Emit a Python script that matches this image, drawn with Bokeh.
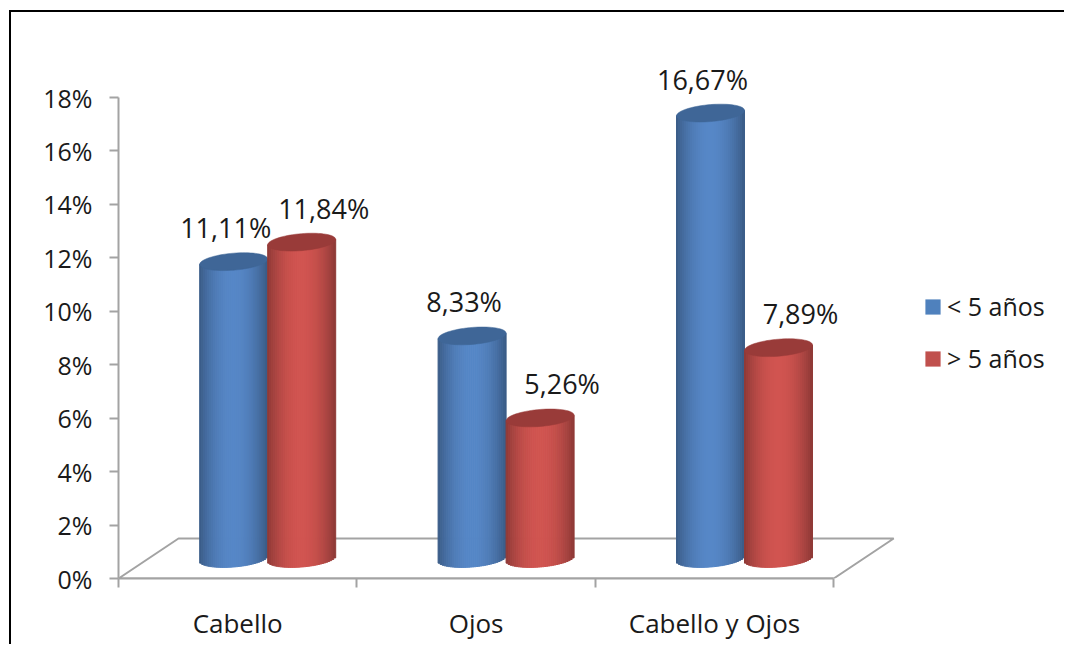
import math
from bokeh.plotting import figure
from bokeh.models import (Range1d, LinearAxis, FixedTicker, PrintfTickFormatter,
                          Legend, LegendItem, ColumnDataSource)
from bokeh.core.properties import value
from bokeh.embed import file_html
from bokeh.resources import INLINE

# ---------------- data ----------------
categories = ["Cabello", "Ojos", "Cabello y Ojos"]
menor_5 = [11.11, 8.33, 16.67]
mayor_5 = [11.84, 5.26, 7.89]
series_names = ["< 5 años", "> 5 años"]
y_ticks = [0, 2, 4, 6, 8, 10, 12, 14, 16, 18]

# ---------------- geometry / style ----------------
W, H = 1055, 634
LEFT, BOTTOM = 107, 68
PX_X = 238.4           # pixels per category
PX_Y = 26.72           # pixels per percent
FRAME_W = W - LEFT
FRAME_H = H - BOTTOM
DEPTH_X, DEPTH_Y = 60 / PX_X, 40 / PX_Y          # floor depth in data units
BAR_W_PX = 68
BAR_W = BAR_W_PX / PX_X
A_PX, B_PX = BAR_W_PX / 2, 8.5                   # ellipse semi-axes (px)
TILT = 0.08
N_STRIPES = 34
FONT = "Open Sans"
GRAY = "#A3A3A3"
TXT = "#1a1a1a"

p = figure(width=W, height=H, output_backend="svg", toolbar_location=None,
           x_range=Range1d(0, FRAME_W / PX_X), y_range=Range1d(0, FRAME_H / PX_Y),
           x_axis_type=None, y_axis_type=None,
           min_border_left=LEFT, min_border_bottom=BOTTOM,
           min_border_top=0, min_border_right=0,
           margin=(10, 0, 0, 9),
           styles={"border-top": "2px solid #000", "border-left": "2px solid #000"})
p.outline_line_color = None
p.grid.visible = False
p.background_fill_color = "white"
p.border_fill_color = "white"

# floor parallelogram
n = len(categories)
p.patch(x=[0, n, n + DEPTH_X, DEPTH_X], y=[0, 0, DEPTH_Y, DEPTH_Y],
        fill_color=None, line_color=GRAY, line_width=2)


def shade(rgb, f):
    return "#%02x%02x%02x" % tuple(max(0, min(255, int(round(c * f)))) for c in rgb)


def cylinders(values, offset, bright, top_color):
    xs, tops, bots, cols = [], [], [], []
    face_x, face_y = [], []
    centers = []
    base = DEPTH_Y / 2
    for i, v in enumerate(values):
        cx = i + 0.5 + DEPTH_X / 2 + offset
        centers.append(cx)
        top = base + v
        for j in range(N_STRIPES):
            t = (j + 0.5) / N_STRIPES
            u = (2 * t - 1) * A_PX
            f = 0.66 + 0.34 * math.sin(math.pi * t) ** 0.8
            xs.append(cx - BAR_W / 2 + t * BAR_W)
            tops.append(top + u * TILT / PX_Y)
            bots.append(base + (u * TILT - B_PX * math.sqrt(max(0.0, 1 - (u / A_PX) ** 2))) / PX_Y)
            cols.append(shade(bright, f))
        fx, fy = [], []
        for k in range(72):
            ph = 2 * math.pi * k / 72
            u = A_PX * math.cos(ph)
            vv = B_PX * math.sin(ph) + u * TILT
            fx.append(cx + u / PX_X)
            fy.append(top + vv / PX_Y)
        face_x.append(fx)
        face_y.append(fy)
    src = ColumnDataSource(dict(x=xs, top=tops, bottom=bots, color=cols))
    p.vbar(x="x", top="top", bottom="bottom", width=BAR_W / N_STRIPES,
           fill_color="color", line_color="color", line_width=1, source=src)
    p.patches(xs=face_x, ys=face_y, fill_color=top_color, line_color=top_color,
              line_width=0.5)
    return centers


blue_bright = (86, 135, 199)
red_bright = (209, 84, 80)
c_blue = cylinders(menor_5, -BAR_W / 2, blue_bright, "#3F6697")
c_red = cylinders(mayor_5, BAR_W / 2, red_bright, "#993B39")

base = DEPTH_Y / 2
fmt = lambda v: ("%.2f" % v).replace(".", ",") + "%"
p.text(x=c_blue, y=[base + v for v in menor_5], text=[fmt(v) for v in menor_5],
       text_font=value(FONT), text_font_size="27px", text_color=TXT,
       text_align="center", text_baseline="middle", x_offset=-8, y_offset=-34)
p.text(x=c_red, y=[base + v for v in mayor_5], text=[fmt(v) for v in mayor_5],
       text_font=value(FONT), text_font_size="27px", text_color=TXT,
       text_align="center", text_baseline="middle", x_offset=22, y_offset=-34)

# axes
yax = LinearAxis(ticker=FixedTicker(ticks=y_ticks, minor_ticks=[]),
                 formatter=PrintfTickFormatter(format="%d%%"),
                 bounds=(y_ticks[0], y_ticks[-1]))
yax.axis_line_color = GRAY
yax.axis_line_width = 2
yax.major_tick_line_color = GRAY
yax.major_tick_line_width = 2
yax.major_tick_out = 9
yax.major_tick_in = 0
yax.major_label_standoff = 17
yax.major_label_text_font = FONT
yax.major_label_text_font_size = "25px"
yax.major_label_text_color = TXT
p.add_layout(yax, "left")

centers_front = [i + 0.5 for i in range(n)]
xax = LinearAxis(ticker=FixedTicker(ticks=centers_front, minor_ticks=list(range(n + 1))),
                 bounds=(0, n),
                 major_label_overrides={c: lab for c, lab in zip(centers_front, categories)})
xax.axis_line_color = GRAY
xax.axis_line_width = 2
xax.major_tick_out = 0
xax.major_tick_in = 0
xax.minor_tick_line_color = GRAY
xax.minor_tick_line_width = 2
xax.minor_tick_out = 9
xax.minor_tick_in = 0
xax.major_label_standoff = 17
xax.major_label_text_font = FONT
xax.major_label_text_font_size = "26px"
xax.major_label_text_color = TXT
p.add_layout(xax, "below")

# legend (swatches come from off-screen one-point renderers)
r1 = p.quad(left=[-10], right=[-9], top=[-10], bottom=[-11], fill_color="#4F81BD", line_color=None)
r2 = p.quad(left=[-10], right=[-9], top=[-10], bottom=[-11], fill_color="#C0504D", line_color=None)
legend = Legend(items=[LegendItem(label=series_names[0], renderers=[r1]),
                       LegendItem(label=series_names[1], renderers=[r2])],
                location=(805, 203), orientation="vertical",
                glyph_width=19, glyph_height=19, label_height=30, spacing=18,
                padding=0, margin=0, label_standoff=5,
                label_text_font=FONT, label_text_font_size="25px",
                label_text_color=TXT,
                border_line_color=None, background_fill_alpha=0)
p.add_layout(legend)

open("out.html", "w").write(file_html(p, INLINE))
